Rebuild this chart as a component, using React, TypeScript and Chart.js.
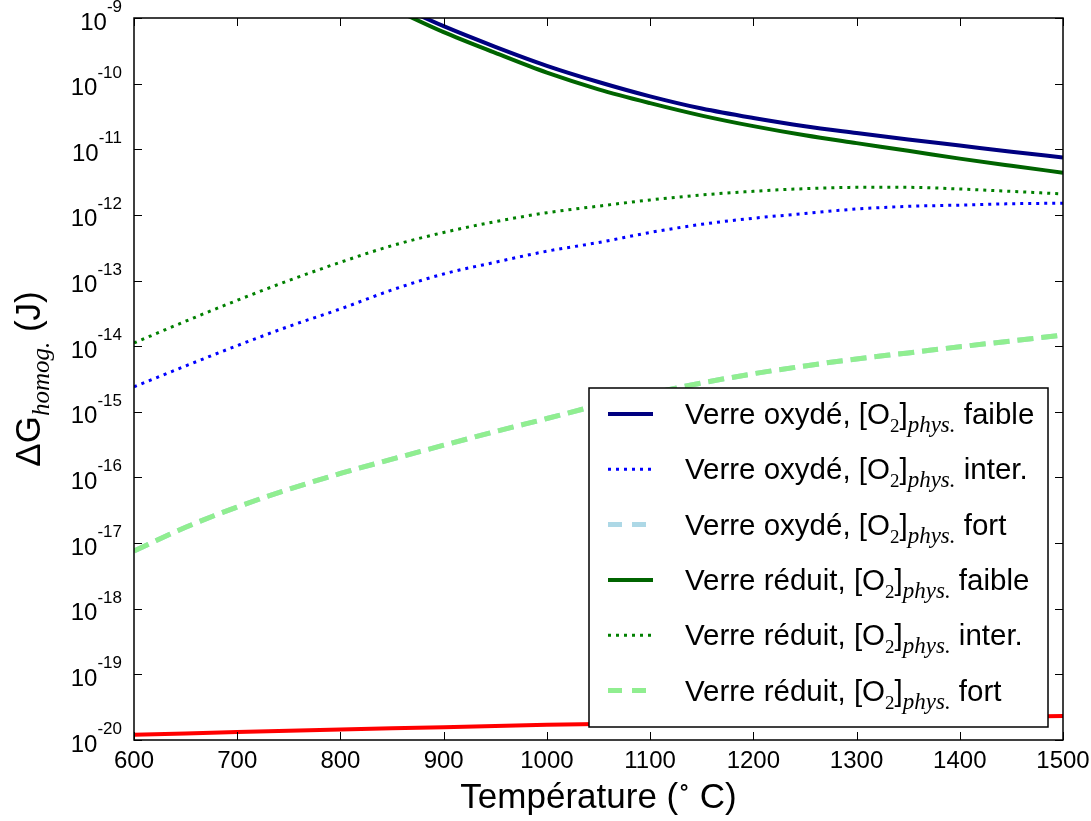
import React, { useEffect, useRef } from 'react';
import { Chart, registerables } from 'chart.js';

Chart.register(...registerables);

// ---------- data ----------
const temperatures = [600, 650, 700, 750, 800, 850, 900, 950, 1000, 1050, 1100, 1150, 1200, 1250, 1300, 1350, 1400, 1450, 1500];

const oxydeFaible = [null, null, null, null, null, 1.7e-9, 7.5e-10, 3.64e-10, 1.87e-10, 1.06e-10, 6.4e-11, 4.17e-11, 2.99e-11, 2.24e-11, 1.77e-11, 1.41e-11, 1.14e-11, 9.2e-12, 7.5e-12];
const oxydeInter = [2.4e-15, 5.0e-15, 1.02e-14, 2.0e-14, 3.7e-14, 7.2e-14, 1.26e-13, 1.9e-13, 2.8e-13, 3.8e-13, 5.4e-13, 7.2e-13, 8.9e-13, 1.05e-12, 1.23e-12, 1.35e-12, 1.41e-12, 1.48e-12, 1.51e-12];
const oxydeFort = [7.6e-18, 1.74e-17, 3.55e-17, 6.6e-17, 1.15e-16, 1.9e-16, 3.1e-16, 5.0e-16, 7.9e-16, 1.26e-15, 1.9e-15, 2.75e-15, 3.8e-15, 5.0e-15, 6.4e-15, 7.9e-15, 9.8e-15, 1.2e-14, 1.48e-14];
const reduitFaible = [null, null, null, null, null, 1.4e-9, 6.08e-10, 2.94e-10, 1.47e-10, 8.2e-11, 5.05e-11, 3.26e-11, 2.25e-11, 1.63e-11, 1.24e-11, 9.5e-12, 7.2e-12, 5.6e-12, 4.4e-12];
const reduitInter = [1.12e-14, 2.4e-14, 5.0e-14, 1.0e-13, 1.9e-13, 3.4e-13, 5.4e-13, 7.9e-13, 1.08e-12, 1.36e-12, 1.69e-12, 2.01e-12, 2.29e-12, 2.51e-12, 2.63e-12, 2.63e-12, 2.48e-12, 2.28e-12, 2.09e-12];
const reduitFort = [7.6e-18, 1.74e-17, 3.55e-17, 6.6e-17, 1.15e-16, 1.9e-16, 3.1e-16, 5.0e-16, 7.9e-16, 1.26e-15, 1.9e-15, 2.75e-15, 3.8e-15, 5.0e-15, 6.4e-15, 7.9e-15, 9.8e-15, 1.2e-14, 1.48e-14];
const reference = [1.2e-20, 1.26e-20, 1.32e-20, 1.38e-20, 1.45e-20, 1.51e-20, 1.57e-20, 1.63e-20, 1.7e-20, 1.76e-20, 1.83e-20, 1.89e-20, 1.96e-20, 2.02e-20, 2.08e-20, 2.14e-20, 2.2e-20, 2.26e-20, 2.32e-20];

const xTicks = [600, 700, 800, 900, 1000, 1100, 1200, 1300, 1400, 1500];
const yExponents = [-9, -10, -11, -12, -13, -14, -15, -16, -17, -18, -19, -20];

const legendGlass = ['Verre oxydé', 'Verre oxydé', 'Verre oxydé', 'Verre réduit', 'Verre réduit', 'Verre réduit'];
const legendLevel = ['faible', 'inter.', 'fort', 'faible', 'inter.', 'fort'];

const xTitle = 'Température';
const yTitleMain = 'ΔG';
const yTitleSub = 'homog.';
const yTitleUnit = '(J)';

// ---------- styles ----------
const SANS = "'Liberation Sans', Arial, sans-serif";
const SERIF = "'Liberation Serif', 'DejaVu Serif', serif";

const styles = [
  { color: '#000080', width: 4, dash: [] as number[] },
  { color: '#0000ff', width: 3, dash: [3, 5] },
  { color: '#add8e6', width: 5, dash: [16, 8] },
  { color: '#006400', width: 4, dash: [] as number[] },
  { color: '#008000', width: 3, dash: [3, 5] },
  { color: '#90ee90', width: 5, dash: [16, 8] },
];

type Run = { text: string; font: string; dy: number };

function runsWidth(ctx: CanvasRenderingContext2D, runs: Run[]) {
  let w = 0;
  for (const r of runs) {
    ctx.font = r.font;
    w += ctx.measureText(r.text).width;
  }
  return w;
}

function drawRuns(ctx: CanvasRenderingContext2D, runs: Run[], x: number, y: number) {
  let cx = x;
  for (const r of runs) {
    ctx.font = r.font;
    ctx.fillText(r.text, cx, y + r.dy);
    cx += ctx.measureText(r.text).width;
  }
}

const decorPlugin = {
  id: 'decor',
  afterDraw(chart: any) {
    const { ctx, chartArea: a, scales } = chart;
    const xs = scales.x;
    const ys = scales.y;
    ctx.save();
    ctx.fillStyle = '#000';
    ctx.strokeStyle = '#000';
    ctx.textAlign = 'left';
    ctx.textBaseline = 'alphabetic';

    // ticks (inward, all four sides)
    ctx.lineWidth = 1;
    ctx.setLineDash([]);
    ctx.beginPath();
    for (const t of xTicks) {
      const px = Math.round(xs.getPixelForValue(t)) + 0.5;
      ctx.moveTo(px, a.bottom);
      ctx.lineTo(px, a.bottom - 8);
      ctx.moveTo(px, a.top);
      ctx.lineTo(px, a.top + 8);
    }
    for (const e of yExponents) {
      const py = Math.round(ys.getPixelForValue(Math.pow(10, e))) + 0.5;
      ctx.moveTo(a.left, py);
      ctx.lineTo(a.left + 8, py);
      ctx.moveTo(a.right, py);
      ctx.lineTo(a.right - 8, py);
    }
    ctx.stroke();

    // frame
    ctx.lineWidth = 1.5;
    ctx.strokeRect(a.left, a.top, a.right - a.left, a.bottom - a.top);

    // y tick labels 10^e
    for (const e of yExponents) {
      const py = ys.getPixelForValue(Math.pow(10, e));
      const exp = String(e);
      ctx.font = `17px ${SANS}`;
      const we = ctx.measureText(exp).width;
      ctx.font = `24px ${SANS}`;
      const wt = ctx.measureText('10').width;
      const right = a.left - 12;
      ctx.fillText('10', right - we - wt, py + 11.5);
      ctx.font = `17px ${SANS}`;
      ctx.fillText(exp, right - we, py - 6);
    }

    // x title
    const xRuns: Run[] = [
      { text: xTitle + ' (', font: `35px ${SANS}`, dy: 0 },
      { text: '∘', font: `24px ${SERIF}`, dy: -13 },
      { text: ' C)', font: `35px ${SANS}`, dy: 0 },
    ];
    const xw = runsWidth(ctx, xRuns);
    drawRuns(ctx, xRuns, (a.left + a.right) / 2 - xw / 2, 808);

    // y title (rotated)
    const yRuns: Run[] = [
      { text: yTitleMain, font: `35px ${SANS}`, dy: 0 },
      { text: yTitleSub, font: `italic 25px ${SERIF}`, dy: 9 },
      { text: ' ' + yTitleUnit, font: `35px ${SANS}`, dy: 0 },
    ];
    const yw = runsWidth(ctx, yRuns);
    ctx.save();
    ctx.translate(40, (a.top + a.bottom) / 2);
    ctx.rotate(-Math.PI / 2);
    drawRuns(ctx, yRuns, -yw / 2, 0);
    ctx.restore();

    // legend
    const bx = 589, by = 388, bw = 459, bh = 339;
    ctx.fillStyle = '#fff';
    ctx.fillRect(bx, by, bw, bh);
    ctx.lineWidth = 1.5;
    ctx.strokeStyle = '#000';
    ctx.strokeRect(bx, by, bw, bh);
    for (let i = 0; i < legendGlass.length; i++) {
      const cy = 414 + i * 55.3;
      const st = styles[i];
      ctx.save();
      ctx.strokeStyle = st.color;
      ctx.lineWidth = st.width;
      ctx.setLineDash(i % 3 === 2 ? [14, 10] : st.dash);
      ctx.beginPath();
      ctx.moveTo(608, cy);
      ctx.lineTo(653, cy);
      ctx.stroke();
      ctx.restore();
      ctx.fillStyle = '#000';
      const runs: Run[] = [
        { text: legendGlass[i] + ', [O', font: `29.5px ${SANS}`, dy: 0 },
        { text: '2', font: `19px ${SERIF}`, dy: 8 },
        { text: ']', font: `29.5px ${SANS}`, dy: 0 },
        { text: 'phys.', font: `italic 23px ${SERIF}`, dy: 8 },
        { text: ' ' + legendLevel[i], font: `29.5px ${SANS}`, dy: 0 },
      ];
      drawRuns(ctx, runs, 685, cy + 10);
    }
    ctx.restore();
  },
};

function toPoints(vals: (number | null)[]) {
  return temperatures.map((t, i) => ({ x: t, y: vals[i] }));
}

export default function App() {
  const ref = useRef<HTMLCanvasElement | null>(null);
  useEffect(() => {
    if (!ref.current) return;
    const series = [oxydeFaible, oxydeInter, oxydeFort, reduitFaible, reduitInter, reduitFort];
    const datasets: any[] = series.map((vals, i) => ({
      label: `${legendGlass[i]} ${legendLevel[i]}`,
      data: toPoints(vals),
      borderColor: styles[i].color,
      borderWidth: styles[i].width,
      borderDash: styles[i].dash,
      borderCapStyle: 'butt',
      pointRadius: 0,
      fill: false,
      cubicInterpolationMode: 'monotone',
      spanGaps: false,
      order: 20 - i,
    }));
    datasets.push({
      label: 'Référence',
      data: toPoints(reference),
      borderColor: '#ff0000',
      borderWidth: 4,
      pointRadius: 0,
      fill: false,
      order: 1,
    });
    const chart = new Chart(ref.current, {
      type: 'line',
      data: { datasets },
      plugins: [decorPlugin],
      options: {
        animation: false,
        responsive: false,
        layout: { padding: { left: 0, right: 28, top: 18, bottom: 0 } },
        plugins: { legend: { display: false }, tooltip: { enabled: false }, title: { display: false } },
        scales: {
          x: {
            type: 'linear',
            min: 600,
            max: 1500,
            grid: { display: false, drawTicks: false },
            border: { display: false },
            ticks: {
              stepSize: 100,
              autoSkip: false,
              maxRotation: 0,
              padding: 7,
              color: '#000',
              font: { family: SANS, size: 24 },
              callback: (v: any) => String(v),
            },
            afterFit: (s: any) => { s.height = 81; s.paddingLeft = 0; s.paddingRight = 0; },
          },
          y: {
            type: 'logarithmic',
            min: 1e-20,
            max: 1e-9,
            grid: { display: false, drawTicks: false },
            border: { display: false },
            ticks: { display: false },
            afterFit: (s: any) => { s.width = 134; s.paddingTop = 0; s.paddingBottom = 0; },
          },
        },
      } as any,
    });
    return () => chart.destroy();
  }, []);
  return (
    <div style={{ position: 'fixed', left: 0, top: 0, width: 1091, height: 821, background: '#fff' }}>
      <canvas ref={ref} width={1091} height={821} style={{ display: 'block' }} />
    </div>
  );
}
